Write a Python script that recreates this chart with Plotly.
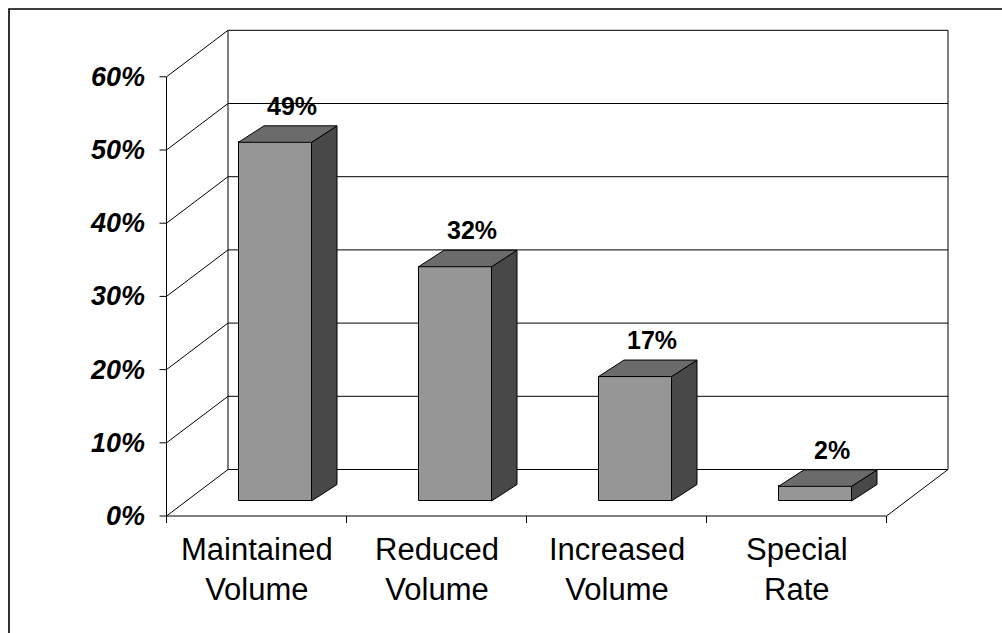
import plotly.graph_objects as go

# ---- data ----
categories = ["Maintained<br>Volume", "Reduced<br>Volume", "Increased<br>Volume", "Special<br>Rate"]
values = [49, 32, 17, 2]
value_labels = ["49%", "32%", "17%", "2%"]
y_ticks = [0, 10, 20, 30, 40, 50, 60]
y_tick_labels = ["0%", "10%", "20%", "30%", "40%", "50%", "60%"]

# ---- geometry / style (pixel scale: 180 px per category, 7.32 px per %) ----
PX_U = 180.0
PX_V = 7.32
X0_PX, Y0_PX = 166.5, 516.0
W, H = 1002, 633

def du(px):
    return px / PX_U

def dv(px):
    return px / PX_V

DEPTH_U, DEPTH_V = du(61.5), dv(46.5)      # floor / wall depth
FRONT_U, FRONT_V = du(18.5), dv(15.0)      # bar front face offset into depth
BAR_U, BAR_V = du(25.5), dv(16.5)          # bar depth
HALF_W = du(36.5)

FRONT_C = "#969696"
TOP_C = "#6b6b6b"
SIDE_C = "#484848"
FONT = "Liberation Sans, Arial, sans-serif"

n = len(categories)
vmax = y_ticks[-1]

fig = go.Figure()
shapes = []

def seg(x0, y0, x1, y1, width=1, color="black"):
    shapes.append(dict(type="line", xref="x", yref="y", x0=x0, y0=y0, x1=x1, y1=y1,
                       line=dict(color=color, width=width), layer="below"))

# back wall gridlines and edges
for t in y_ticks:
    seg(DEPTH_U, t + DEPTH_V, n + DEPTH_U, t + DEPTH_V)
    seg(0, t, DEPTH_U, t + DEPTH_V)          # side wall diagonals
    seg(0, t, -du(7), t)                     # tick marks
seg(DEPTH_U, DEPTH_V, DEPTH_U, vmax + DEPTH_V)
seg(n + DEPTH_U, DEPTH_V, n + DEPTH_U, vmax + DEPTH_V)
# front axis & floor
seg(0, 0, 0, vmax)
seg(0, 0, n, 0)
seg(n, 0, n + DEPTH_U, DEPTH_V)
for i in range(n + 1):
    seg(i, 0, i, -dv(7))

# outer border (paper)
shapes.append(dict(type="rect", xref="paper", yref="paper",
                   x0=9 / W, y0=-0.1, x1=1.1, y1=1 - 9 / H,
                   line=dict(color="black", width=1.6), layer="above"))

centers = [i + 0.5 + FRONT_U for i in range(n)]

# front faces
fig.add_trace(go.Bar(x=centers, y=values, base=[FRONT_V] * n, width=2 * HALF_W,
                     marker=dict(color=FRONT_C, line=dict(color="black", width=1)),
                     hoverinfo="skip", showlegend=False))

# top and side faces
for c, v in zip(centers, values):
    uL, uR = c - HALF_W, c + HALF_W
    vT, vB = v + FRONT_V, FRONT_V
    fig.add_trace(go.Scatter(
        x=[uR, uR, uR + BAR_U, uR + BAR_U, uR],
        y=[vB, vT, vT + BAR_V, vB + BAR_V, vB],
        fill="toself", fillcolor=SIDE_C, mode="lines",
        line=dict(color="black", width=1), hoverinfo="skip", showlegend=False))
    fig.add_trace(go.Scatter(
        x=[uL, uR, uR + BAR_U, uL + BAR_U, uL],
        y=[vT, vT, vT + BAR_V, vT + BAR_V, vT],
        fill="toself", fillcolor=TOP_C, mode="lines",
        line=dict(color="black", width=1), hoverinfo="skip", showlegend=False))

annotations = []
# value labels
for c, v, lab in zip(centers, values, value_labels):
    annotations.append(dict(x=c + du(17), y=v + FRONT_V + BAR_V + dv(20), text=lab,
                            showarrow=False, xanchor="center", yanchor="middle",
                            font=dict(family=FONT, size=25, color="black", weight="bold")))
# y tick labels
for t, lab in zip(y_ticks, y_tick_labels):
    annotations.append(dict(x=du(147 - X0_PX), y=t, text="<b><i>" + lab + "</i></b>",
                            showarrow=False, xanchor="right", yanchor="middle",
                            font=dict(family=FONT, size=27, color="black")))
# category labels
for i, cat in enumerate(categories):
    annotations.append(dict(x=i + 0.5, y=dv(516 - 569), text=cat,
                            showarrow=False, xanchor="center", yanchor="middle",
                            font=dict(family=FONT, size=31, color="black")))

fig.update_layout(
    width=W, height=H, autosize=False,
    margin=dict(l=0, r=0, t=0, b=0, pad=0),
    paper_bgcolor="white", plot_bgcolor="white",
    xaxis=dict(range=[-X0_PX / PX_U, (W - X0_PX) / PX_U], visible=False, fixedrange=True),
    yaxis=dict(range=[(Y0_PX - H) / PX_V, Y0_PX / PX_V], visible=False, fixedrange=True),
    shapes=shapes, annotations=annotations, showlegend=False, bargap=0,
)

fig.write_html("out.html")
